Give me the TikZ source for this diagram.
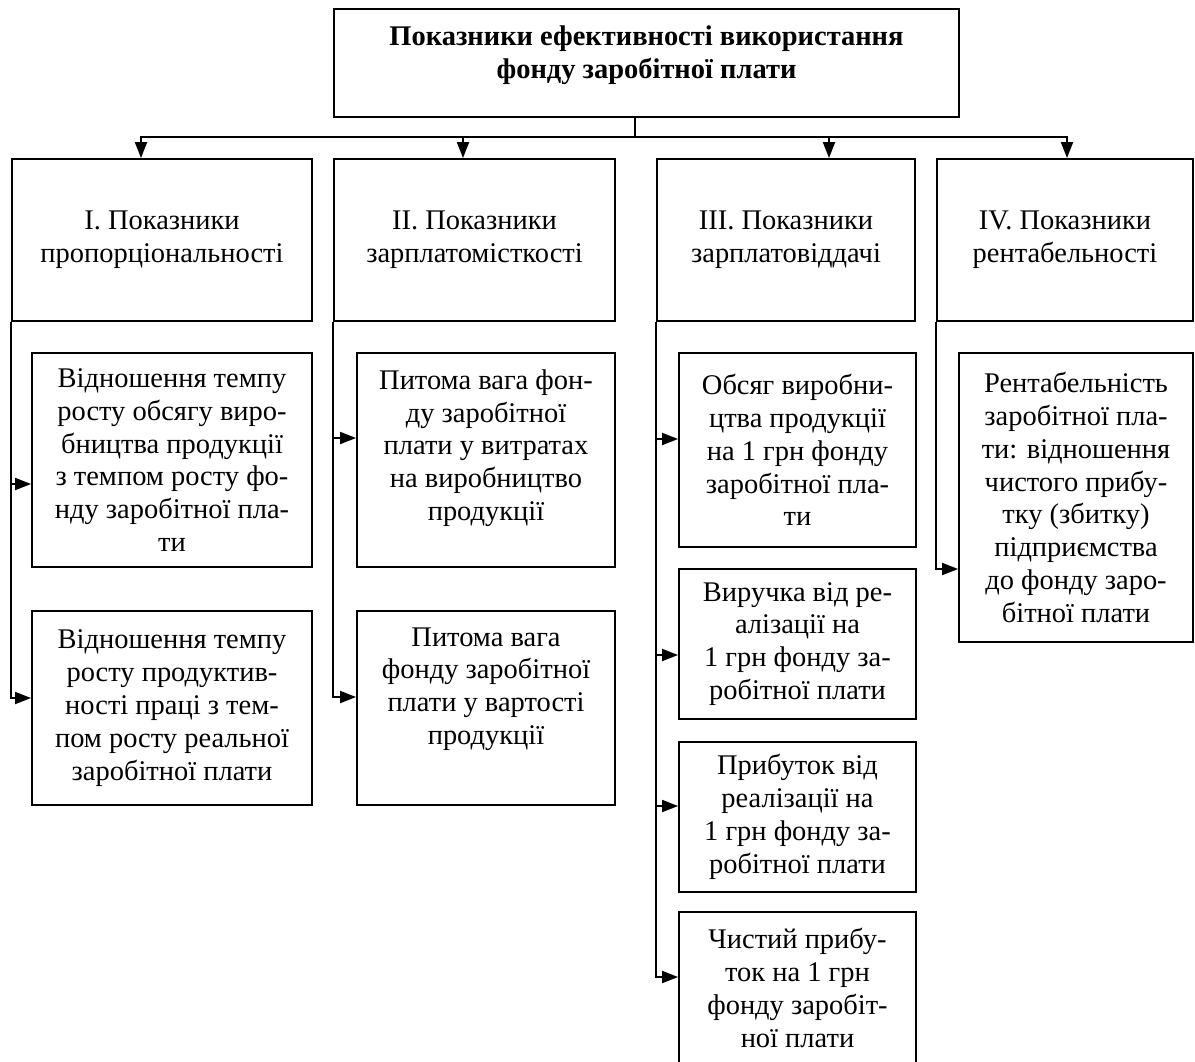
\documentclass[tikz,border=0pt]{standalone}
\usepackage{fontspec}
\setmainfont{Liberation Serif}
\usetikzlibrary{arrows.meta,calc}
\newcommand{\boxfont}{\fontsize{16.2}{18.7}\selectfont}
\tikzset{
  blk/.style={draw, line width=1.1pt, align=center, inner sep=0pt, font=\boxfont},
  link/.style={line width=1.1pt, -{Triangle[length=0.32cm,width=0.24cm]}},
  trunk/.style={line width=1.1pt},
}
\begin{document}
\begin{tikzpicture}[x=0.02cm, y=-0.02cm]
\useasboundingbox (0,0) rectangle (1195,1061);
% head
\node[blk, font=\boxfont\bfseries, minimum width=12.5cm, minimum height=2.16cm, text depth=12pt] (top) at (646.5,63) {Показники ефективності використання\\фонду заробітної плати};
% groups
\node[blk, minimum width=6cm, minimum height=3.24cm] (grp1) at (162,240) {I. Показники\\пропорціональності};
\node[blk, minimum width=5.62cm, minimum height=3.24cm] (grp2) at (474.5,240) {II. Показники\\зарплатомісткості};
\node[blk, minimum width=5.16cm, minimum height=3.24cm] (grp3) at (786,240) {III. Показники\\зарплатовіддачі};
\node[blk, minimum width=5.12cm, minimum height=3.24cm] (grp4) at (1065,240) {IV. Показники\\рентабельності};
% I
\node[blk, minimum width=5.6cm, minimum height=4.28cm] (a1) at (172,460) {Відношення темпу\\росту  обсягу виро-\\бництва  продукції\\з темпом росту фо-\\нду заробітної пла-\\ти};
\node[blk, minimum width=5.6cm, minimum height=3.88cm] (a2) at (172,708) {Відношення темпу\\росту  продуктив-\\ності праці  з тем-\\пом росту реальної\\заробітної плати};
% II
\node[blk, minimum width=5.16cm, minimum height=4.28cm, text depth=17pt] (b1) at (486,460) {Питома вага фон-\\ду заробітної\\плати у витратах\\на виробництво\\продукції};
\node[blk, minimum width=5.16cm, minimum height=3.88cm, text depth=25pt] (b2) at (486,708) {Питома вага\\фонду заробітної\\плати у вартості\\продукції};
% III
\node[blk, minimum width=4.74cm, minimum height=3.88cm] (c1) at (797.5,450) {Обсяг виробни-\\цтва продукції\\на 1 грн фонду\\заробітної пла-\\ти};
\node[blk, minimum width=4.74cm, minimum height=3cm] (c2) at (797.5,644) {Виручка від ре-\\алізації на\\1 грн фонду за-\\робітної плати};
\node[blk, minimum width=4.74cm, minimum height=3cm] (c3) at (797.5,817) {Прибуток від\\реалізації на\\1 грн фонду за-\\робітної плати};
\node[blk, minimum width=4.74cm, minimum height=3.04cm] (c4) at (797.5,988) {Чистий прибу-\\ток на 1 грн\\фонду заробіт-\\ної плати};
% IV
\node[blk, minimum width=4.68cm, minimum height=5.78cm] (d1) at (1076,497.5) {Рентабельність\\заробітної пла-\\ти: відношення\\чистого прибу-\\тку (збитку)\\підприємства\\до фонду заро-\\бітної плати};
% arrows from head
\coordinate (hub) at (635,137);
\draw[trunk] (top.south -| hub) -- (hub);
\draw[link] (hub) -| ($(grp1.north)+(-21,0)$);
\draw[link] (hub) -| ($(grp2.north)+(-11.5,0)$);
\draw[link] (hub) -| ($(grp3.north)+(43,0)$);
\draw[link] (hub) -| ($(grp4.north)+(2,0)$);
% side branches
\draw[link] (grp1.south west) |- ($(a1.west)+(0,24)$);
\draw[link] (grp1.south west) |- ($(a2.west)+(0,-10)$);
\draw[link] (grp2.south west) |- ($(b1.west)+(0,-22)$);
\draw[link] (grp2.south west) |- ($(b2.west)+(0,-11)$);
\draw[link] (grp3.south west) |- ($(c1.west)+(0,-11)$);
\draw[link] (grp3.south west) |- ($(c2.west)+(0,11)$);
\draw[link] (grp3.south west) |- ($(c3.west)+(0,-11)$);
\draw[link] (grp3.south west) |- ($(c4.west)+(0,-11)$);
\draw[link] (grp4.south west) |- ($(d1.west)+(0,71.5)$);
\end{tikzpicture}
\end{document}
